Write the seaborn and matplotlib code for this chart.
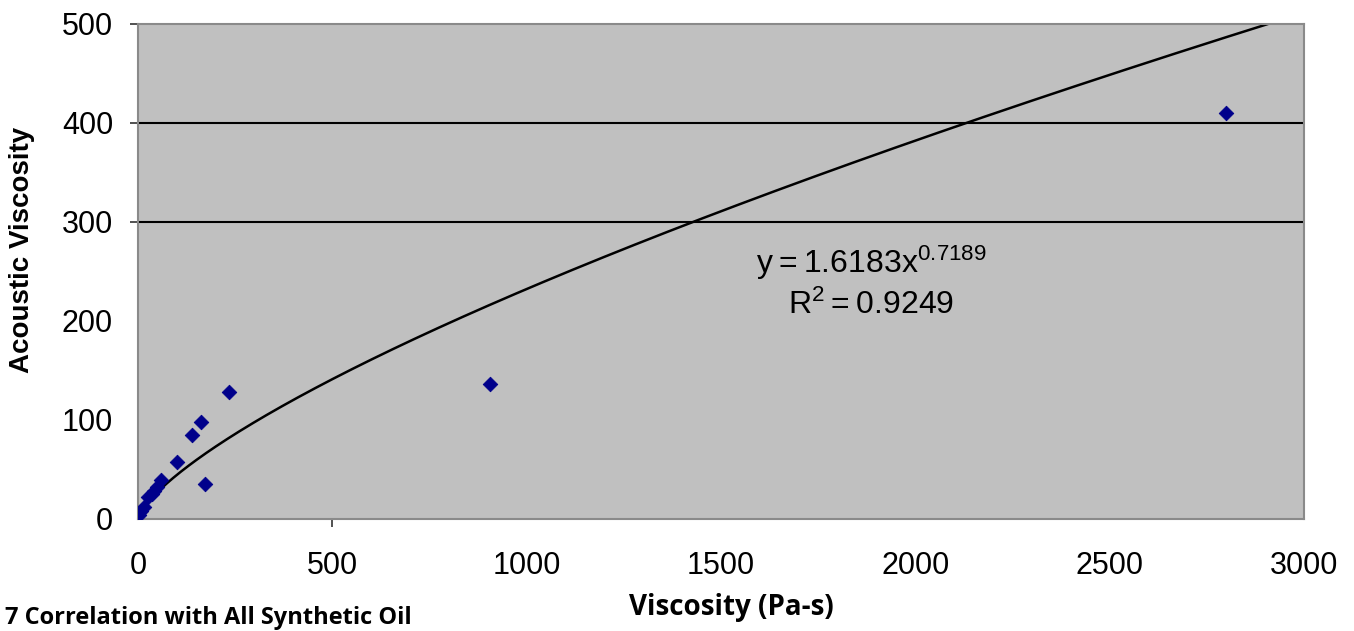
import numpy as np
import pandas as pd
import matplotlib
matplotlib.use('Agg')
import matplotlib.pyplot as plt
import seaborn as sns

# measured points (Pa-s vs acoustic viscosity)
visc = [3, 8, 14, 25, 35, 42, 48, 60, 101, 138, 163, 172, 234, 906, 2800]
acoustic = [4, 8, 12, 22, 25, 28, 32, 39, 57, 85, 98, 35, 128, 136, 410]

# power trendline reported on the chart
COEF = 1.6183
EXPO = 0.7189
R2 = 0.9249

sns.set_style('white')
plt.rcParams['font.family'] = ['Liberation Sans', 'DejaVu Sans']
plt.rcParams['text.color'] = 'black'

df = pd.DataFrame({'visc': visc, 'acoustic': acoustic})
x_fit = np.linspace(0, 3000, 600)
fit = pd.DataFrame({'x': x_fit, 'y': COEF * x_fit ** EXPO})

fig = plt.figure(figsize=(13.54, 6.31), dpi=100)
ax = fig.add_axes([0.102, 0.178, 0.861, 0.784])
ax.set_facecolor('#C0C0C0')

for yv in [300, 400]:
    ax.axhline(yv, color='black', lw=1.5, zorder=1)

sns.lineplot(data=fit, x='x', y='y', color='black', lw=1.8, ax=ax, zorder=2)
sns.scatterplot(data=df, x='visc', y='acoustic', marker='D', s=55, color='#00008B',
                edgecolor='#00008B', ax=ax, zorder=3)

ax.set_xlim(0, 3000)
ax.set_ylim(0, 500)
ax.set_xticks([0, 500, 1000, 1500, 2000, 2500, 3000])
ax.set_yticks([0, 100, 200, 300, 400, 500])
ax.tick_params(axis='both', labelsize=22, length=6, width=1.2, color='#333333',
               labelcolor='black', direction='out')
ax.tick_params(axis='x', pad=17)
ax.tick_params(axis='y', pad=12)
# only some tick marks survive in the scanned original
for t, v in zip(ax.yaxis.get_major_ticks(), [0, 100, 200, 300, 400, 500]):
    t.tick1line.set_visible(v >= 300)
for t, v in zip(ax.xaxis.get_major_ticks(), [0, 500, 1000, 1500, 2000, 2500, 3000]):
    t.tick1line.set_visible(v == 500)
for s in ax.spines.values():
    s.set_color('#8A8A8A')
    s.set_linewidth(1.5)

ax.set_xlabel('')
ax.set_ylabel('Acoustic Viscosity', fontsize=20, fontweight='bold', color='black')
ax.yaxis.set_label_coords(-0.0883, 0.543)

ax.text(1886, 259, r'$\mathregular{y = %.4fx^{%.4f}}$' % (COEF, EXPO), fontsize=23,
        ha='center', va='center')
ax.text(1886, 216, r'$\mathregular{R^2 = %.4f}$' % R2, fontsize=23,
        ha='center', va='center')

fig.text(731 / 1354, 1 - 608 / 631, 'Viscosity (Pa-s)', fontsize=20, fontweight='bold',
         family=['Open Sans', 'DejaVu Sans'], ha='center', va='center')
fig.text(0.004, 0.002, '7 Correlation with All Synthetic Oil', fontsize=17,
         fontweight='bold', family=['Open Sans', 'DejaVu Sans'], ha='left', va='bottom')

fig.savefig('out.png', dpi=100)
